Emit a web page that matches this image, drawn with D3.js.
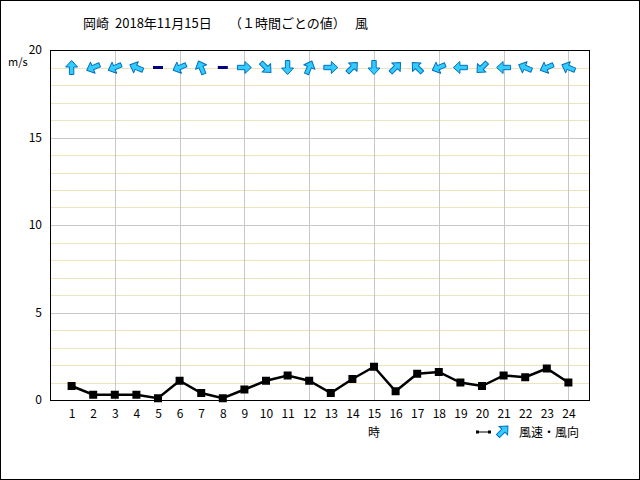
<!DOCTYPE html>
<html><head><meta charset="utf-8">
<script src="https://cdn.jsdelivr.net/npm/d3@7"></script>
<style>html,body{margin:0;padding:0;background:#fff;}svg{display:block;}</style>
</head><body>
<svg id="c" width="640" height="480"></svg>
<script>
// ---- data ----
const hours = [1,2,3,4,5,6,7,8,9,10,11,12,13,14,15,16,17,18,19,20,21,22,23,24];
const windSpeed = [0.8,0.3,0.3,0.3,0.1,1.1,0.4,0.1,0.6,1.1,1.4,1.1,0.4,1.2,1.9,0.5,1.5,1.6,1.0,0.8,1.4,1.3,1.8,1.0];
// direction the wind blows FROM (16 points), "calm" = 静穏
const windFrom = ["S","ENE","ENE","ESE","calm","ENE","SSE","calm","W","NW","N","SSW","W","SW","N","SW","SE","ENE","E","NE","E","ESE","ENE","ESE"];
const yTicks = [0,5,10,15,20];
const xTickLabels = hours.map(String);
const compass = ["N","NNE","NE","ENE","E","ESE","SE","SSE","S","SSW","SW","WSW","W","WNW","NW","NNW"];

const svg = d3.select("#c");
const font = "'Noto Sans CJK JP', sans-serif";
const L = 50, R = 590, T = 50, B = 400;
const x = d3.scaleLinear().domain([0,25]).range([L,R]);
const y = d3.scaleLinear().domain([0,20]).range([B,T]);

// outer frame
svg.append("rect").attr("x",0.5).attr("y",0.5).attr("width",639).attr("height",479)
  .attr("fill","#fff").attr("stroke","#000");

// title
const title = svg.append("text").attr("y",28).attr("font-family",font).attr("font-size",13).attr("fill","#000");
title.append("tspan").attr("x",83).text("岡崎");
title.append("tspan").attr("x",115).text("2018年11月15日");
title.append("tspan").attr("x",229).text("（１時間ごとの値）");
title.append("tspan").attr("x",355).text("風");

// grid
const g = svg.append("g");
g.selectAll("line.hmin").data(d3.range(1,20).filter(v=>v%5!==0)).join("line").attr("class","hmin")
  .attr("x1",L).attr("x2",R).attr("y1",d=>Math.round(y(d))+0.5).attr("y2",d=>Math.round(y(d))+0.5)
  .attr("stroke","#ede3bd").attr("stroke-width",1);
g.selectAll("line.hmaj").data([5,10,15]).join("line").attr("class","hmaj")
  .attr("x1",L).attr("x2",R).attr("y1",d=>Math.round(y(d))+0.5).attr("y2",d=>Math.round(y(d))+0.5)
  .attr("stroke","#c8c8c8").attr("stroke-width",1);
g.selectAll("line.v").data(hours.filter(h=>h%3===0)).join("line").attr("class","v")
  .attr("y1",T).attr("y2",B).attr("x1",d=>Math.round(x(d))+0.5).attr("x2",d=>Math.round(x(d))+0.5)
  .attr("stroke","#c8c8c8").attr("stroke-width",1);

// plot frame
svg.append("rect").attr("x",L+0.5).attr("y",T+0.5).attr("width",R-L-1).attr("height",B-T)
  .attr("fill","none").attr("stroke","#000");

// y axis labels
const yAxis = d3.axisLeft(y).tickValues(yTicks).tickSize(0).tickPadding(8);
const ya = svg.append("g").attr("transform",`translate(${L},0)`).call(yAxis);
ya.select(".domain").remove();
ya.selectAll("text").attr("font-family",font).attr("font-size",12).attr("fill","#000");
svg.append("text").attr("x",8).attr("y",66).attr("font-family",font).attr("font-size",11).text("m/s");

// x axis labels
const xAxis = d3.axisBottom(x).tickValues(hours).tickFormat((d,i)=>xTickLabels[i]).tickSize(0).tickPadding(9);
const xa = svg.append("g").attr("transform",`translate(0,${B})`).call(xAxis);
xa.select(".domain").remove();
xa.selectAll("text").attr("font-family",font).attr("font-size",12).attr("fill","#000");
svg.append("text").attr("x",x(15)).attr("y",437).attr("text-anchor","middle")
  .attr("font-family",font).attr("font-size",12).text("時");

// line
const line = d3.line().x((d,i)=>x(hours[i])).y(d=>y(d));
svg.append("path").datum(windSpeed).attr("d",line).attr("fill","none")
  .attr("stroke","#000").attr("stroke-width",2.5);
svg.selectAll("rect.pt").data(windSpeed).join("rect").attr("class","pt")
  .attr("x",(d,i)=>x(hours[i])-4).attr("y",d=>y(d)-4).attr("width",8).attr("height",8).attr("fill","#000");

// arrows
const arrowPath = "M0,-7 L6,-0.5 L2.2,-0.5 L2.2,7 L-2.2,7 L-2.2,-0.5 L-6,-0.5 Z";
const arrowY = y(19);
const ag = svg.append("g");
windFrom.forEach((d,i)=>{
  const cx = x(hours[i]);
  if(d==="calm"){
    ag.append("rect").attr("x",cx-5).attr("y",arrowY-1.5).attr("width",10).attr("height",3).attr("fill","#000080");
  } else {
    const ang = (compass.indexOf(d)*22.5 + 180) % 360;
    ag.append("path").attr("d",arrowPath)
      .attr("transform",`translate(${cx},${arrowY}) rotate(${ang})`)
      .attr("fill","#33ccff").attr("stroke","#0070c0").attr("stroke-width",1).attr("stroke-linejoin","round");
  }
});

// legend
const ly = 432;
svg.append("line").attr("x1",478).attr("x2",489).attr("y1",ly).attr("y2",ly).attr("stroke","#000").attr("stroke-width",1);
svg.append("rect").attr("x",476).attr("y",ly-1.5).attr("width",3).attr("height",3).attr("fill","#000");
svg.append("rect").attr("x",488).attr("y",ly-1.5).attr("width",3).attr("height",3).attr("fill","#000");
svg.append("path").attr("d",arrowPath).attr("transform",`translate(503,${ly-1}) rotate(45)`)
  .attr("fill","#33ccff").attr("stroke","#0070c0").attr("stroke-width",1);
svg.append("text").attr("x",519).attr("y",ly+5).attr("font-family",font).attr("font-size",12).text("風速・風向");
</script>
</body></html>
